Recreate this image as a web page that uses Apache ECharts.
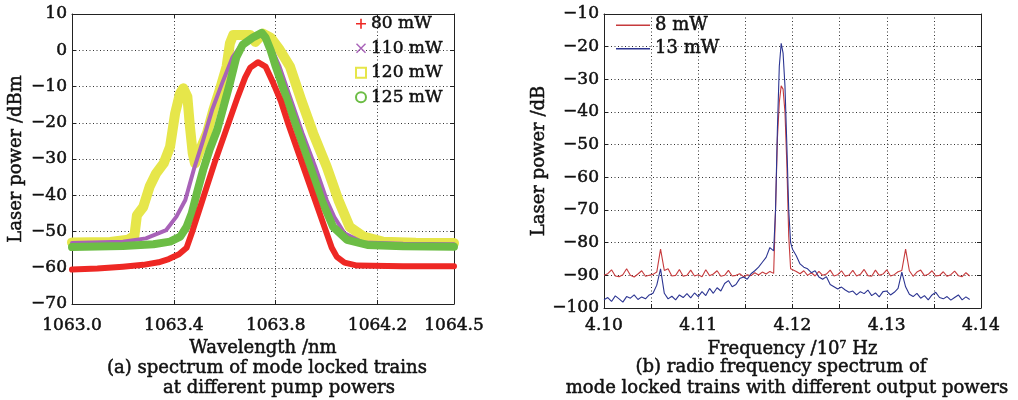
<!DOCTYPE html>
<html>
<head>
<meta charset="utf-8">
<script src="https://cdn.jsdelivr.net/npm/echarts/dist/echarts.min.js"></script>
<style>html,body{margin:0;padding:0;background:#fff;}#c{width:1018px;height:400px;}</style>
</head>
<body>
<div id="c"></div>
<script>
// ---------- (a) optical spectrum: wavelength (nm) / power (dBm) ----------
var wl80 = [1063.00,1063.10,1063.20,1063.28,1063.34,1063.38,1063.42,1063.45,1063.47,1063.50,1063.53,1063.56,1063.59,1063.62,1063.65,1063.68,1063.70,1063.73,1063.76,1063.79,1063.82,1063.85,1063.88,1063.91,1063.94,1063.97,1064.00,1064.02,1064.04,1064.07,1064.12,1064.30,1064.50];
var p80  = [-60.5,-60.2,-59.7,-59.2,-58.5,-57.6,-56.3,-54.5,-50.5,-44,-37.5,-31,-25,-19,-13,-7.5,-4.8,-3.3,-4.5,-9,-14,-20.5,-26.5,-32.5,-38.5,-44.5,-50.5,-54.5,-57,-58.6,-59.4,-59.6,-59.6];

var wl110 = [1063.00,1063.20,1063.29,1063.37,1063.41,1063.445,1063.48,1063.515,1063.55,1063.59,1063.63,1063.67,1063.74,1063.78,1063.815,1063.86,1063.905,1063.955,1064.00,1064.03,1064.07,1064.14,1064.30,1064.50];
var p110  = [-53.2,-52.8,-51.9,-49.6,-45.9,-41.3,-32.5,-24.8,-16.5,-9,-2,2,4.5,1,-4.5,-13.7,-22.9,-32.1,-41.3,-46,-50.5,-53,-53.4,-53.5];

var wl120 = [1063.00,1063.15,1063.22,1063.245,1063.255,1063.28,1063.305,1063.33,1063.36,1063.385,1063.405,1063.424,1063.437,1063.453,1063.463,1063.474,1063.483,1063.503,1063.53,1063.555,1063.58,1063.607,1063.62,1063.633,1063.70,1063.72,1063.75,1063.78,1063.815,1063.856,1063.90,1063.947,1064.00,1064.046,1064.09,1064.145,1064.22,1064.35,1064.50];
var p120  = [-53.0,-52.9,-52.3,-51.2,-45.5,-43.2,-37.6,-34,-31.2,-26.6,-17.4,-11.9,-10.5,-12.8,-21,-28.4,-31.2,-27.5,-22.9,-16.5,-11,-4.5,1.9,4.2,4.2,2.3,4.6,3.5,0.2,-4.5,-13.7,-22.9,-32.1,-41.3,-48.7,-51.4,-52.8,-53.1,-53.2];

var wl125 = [1063.00,1063.20,1063.32,1063.385,1063.425,1063.45,1063.47,1063.49,1063.515,1063.54,1063.57,1063.595,1063.62,1063.645,1063.67,1063.71,1063.745,1063.76,1063.78,1063.80,1063.845,1063.89,1063.935,1063.98,1064.025,1064.08,1064.16,1064.30,1064.50];
var p125  = [-54.3,-54.0,-53.5,-52.8,-51.4,-48.7,-45,-39.5,-33,-27.5,-22,-15.6,-9.1,-2,1.5,3.5,4.8,3.5,0,-4.5,-13.7,-22.9,-32.1,-41.3,-48.7,-52.3,-53.7,-54.1,-54.2];

var namesA = ['80 mW','110 mW','120 mW','125 mW'];
var wlTicks = {min:1063.0, max:1064.5, step:0.4};
var dbmTicks = {min:-70, max:10, step:10};

// ---------- (b) RF spectrum: frequency (1e7 Hz) / power (dB) ----------
var freq = [4.1000,4.1004,4.1008,4.1012,4.1016,4.1020,4.1024,4.1028,4.1032,4.1036,4.1040,4.1044,4.1048,4.1052,4.1056,4.1060,4.1064,4.1068,4.1072,4.1076,4.1080,4.1084,4.1088,4.1092,4.1096,4.1100,4.1104,4.1108,4.1112,4.1116,4.1120,4.1124,4.1128,4.1132,4.1136,4.1140,4.1144,4.1148,4.1152,4.1156,4.1160,4.1164,4.1168,4.1172,4.1176,4.1180,
  4.1182,4.1184,4.1186,4.1188,4.1190,4.1192,4.1194,4.1196,4.1198,4.1200,
  4.1204,4.1208,4.1212,4.1216,4.1220,4.1224,4.1228,4.1232,4.1236,4.1240,4.1244,4.1248,4.1252,4.1256,4.1260,4.1264,4.1268,4.1272,4.1276,4.1280,4.1284,4.1288,4.1292,4.1296,4.1300,4.1304,4.1308,4.1312,4.1316,4.1320,4.1324,4.1328,4.1332,4.1336,4.1340,4.1344,4.1348,4.1352,4.1356,4.1360,4.1364,4.1368,4.1372,4.1376,4.1380,4.1384,4.1388];
var rf8 = [-90.0,-89.5,-88.3,-90.2,-90.4,-89.8,-88.0,-90.0,-90.5,-89.6,-88.6,-90.3,-90.0,-89.7,-89.0,-82.0,-88.5,-88.0,-90.2,-90.0,-88.2,-90.3,-90.0,-88.4,-90.2,-89.8,-90.4,-88.3,-90.1,-89.6,-88.6,-90.3,-90.0,-88.5,-90.2,-90.0,-89.5,-90.4,-89.8,-90.1,-89.2,-89.9,-89.0,-89.6,-88.8,-89.4,
  -70,-48,-37,-32,-33,-40,-56,-78,-88,-88.5,
  -88.8,-89.5,-88.6,-90.0,-89.2,-90.2,-88.8,-90.0,-89.6,-88.4,-90.2,-89.8,-88.6,-90.3,-89.9,-88.5,-90.2,-89.7,-88.2,-90.1,-90.3,-88.4,-90.0,-89.6,-88.3,-90.2,-89.8,-88.9,-88.5,-82.0,-88.6,-90.3,-89.0,-88.4,-90.1,-89.7,-88.6,-90.2,-90.0,-88.9,-90.3,-89.8,-88.7,-90.1,-90.4,-89.2,-90.2];
var rf13 = [-97.5,-96.8,-98.0,-96.3,-97.2,-98.2,-96.5,-97.0,-96.0,-97.4,-96.6,-97.2,-96.0,-95.5,-93.0,-88.0,-95.5,-97.2,-96.4,-97.5,-96.0,-96.8,-95.6,-96.9,-95.4,-96.5,-95.0,-96.2,-94.0,-95.5,-93.8,-94.8,-92.5,-91.6,-93.5,-92.8,-91.0,-90.5,-91.2,-89.5,-88.6,-87.5,-86.0,-84.5,-81.5,-82.5,
  -70,-45,-26,-19,-22,-32,-50,-70,-80,-82,
  -84.0,-86.5,-87.5,-88.0,-89.2,-88.6,-90.5,-91.2,-90.4,-92.8,-93.5,-94.2,-93.6,-94.5,-95.2,-94.8,-96.0,-95.0,-95.6,-94.5,-96.2,-95.4,-96.6,-95.0,-94.8,-96.0,-95.2,-94.0,-89.0,-93.5,-95.8,-96.5,-95.5,-97.0,-96.2,-97.5,-96.0,-95.2,-96.8,-97.2,-96.5,-97.6,-96.8,-96.0,-97.5,-96.6,-97.4];
var namesB = ['8 mW','13 mW'];
var fTicks = {min:4.10, max:4.14, step:0.005};
var dbTicks = {min:-100, max:-10, step:10};

function pairs(xs, ys){ return xs.map(function(x,i){ return [x, ys[i]]; }); }
function minus(v){ return String(v).replace('-', '\u2212'); }

var FONT = '"DejaVu Serif", "Liberation Serif", serif';
var TXT = '#111';
var GRIDC = '#333';
var bold = {textBorderColor: TXT, textBorderWidth: 0.5};
function ts(size, extra){ return Object.assign({fontFamily: FONT, fontSize: size, color: TXT}, bold, extra || {}); }
var dotted = {show: true, lineStyle: {color: GRIDC, type: [1, 2.5], width: 1}};
var frameLine = {show: true, onZero: false, lineStyle: {color: '#222', width: 1}};
var tickIn = {show: true, inside: true, length: 4, lineStyle: {color: '#222'}};

var plusIcon = 'path://M4.2,0H5.8V4.2H10V5.8H5.8V10H4.2V5.8H0V4.2H4.2Z';
var crossIcon = 'path://M1,0L5,4L9,0L10,1L6,5L10,9L9,10L5,6L1,10L0,9L4,5L0,1Z';

var chart = echarts.init(document.getElementById('c'), null, {renderer: 'canvas'});
var option = {
  backgroundColor: '#ffffff',
  animation: false,
  grid: [
    {left: 72, top: 14, width: 382, height: 290},
    {left: 604, top: 14, width: 377, height: 294}
  ],
  xAxis: [
    {type: 'value', gridIndex: 0, min: wlTicks.min, max: wlTicks.max, interval: wlTicks.step,
     axisLine: frameLine, axisTick: tickIn, splitLine: dotted,
     axisLabel: ts(17, {margin: 13, formatter: function(v){ return v.toFixed(1); }}),
     name: 'Wavelength /nm', nameLocation: 'middle', nameGap: 34,
     nameTextStyle: ts(18)},
    {type: 'value', gridIndex: 0, position: 'top', min: wlTicks.min, max: wlTicks.max, interval: wlTicks.step,
     axisLine: frameLine, axisTick: tickIn, axisLabel: {show: false}, splitLine: {show: false}},
    {type: 'value', gridIndex: 1, min: fTicks.min, max: fTicks.max, interval: fTicks.step,
     axisLine: frameLine, axisTick: tickIn, splitLine: dotted,
     axisLabel: ts(17, {margin: 9, showMinLabel: true, showMaxLabel: true, formatter: function(v){
        return (Math.round(v * 200) % 2 === 0) ? v.toFixed(2) : ''; }}),
     name: '{a|Frequency /10}{s|7}{a| Hz}', nameLocation: 'middle', nameGap: 30,
     nameTextStyle: {rich: {a: ts(18), s: ts(11, {padding: [0, 0, 9, 0]})}}},
    {type: 'value', gridIndex: 1, position: 'top', min: fTicks.min, max: fTicks.max, interval: fTicks.step,
     axisLine: frameLine, axisTick: {show: false}, axisLabel: {show: false}, splitLine: {show: false}}
  ],
  yAxis: [
    {type: 'value', gridIndex: 0, min: dbmTicks.min, max: dbmTicks.max, interval: dbmTicks.step,
     axisLine: frameLine, axisTick: tickIn, splitLine: dotted,
     axisLabel: ts(17, {margin: 5, formatter: minus}),
     name: 'Laser power /dBm', nameLocation: 'middle', nameGap: 47,
     nameTextStyle: ts(18)},
    {type: 'value', gridIndex: 0, position: 'right', min: dbmTicks.min, max: dbmTicks.max, interval: dbmTicks.step,
     axisLine: frameLine, axisTick: tickIn, axisLabel: {show: false}, splitLine: {show: false}},
    {type: 'value', gridIndex: 1, min: dbTicks.min, max: dbTicks.max, interval: dbTicks.step,
     axisLine: frameLine, axisTick: tickIn, splitLine: dotted,
     axisLabel: ts(17, {margin: 5, formatter: minus}),
     name: 'Laser power /dB', nameLocation: 'middle', nameGap: 46,
     nameTextStyle: ts(18)},
    {type: 'value', gridIndex: 1, position: 'right', min: dbTicks.min, max: dbTicks.max, interval: dbTicks.step,
     axisLine: frameLine, axisTick: tickIn, axisLabel: {show: false}, splitLine: {show: false}}
  ],
  legend: [
    {data: [{name: namesA[0], icon: plusIcon}, {name: namesA[1], icon: crossIcon},
            {name: namesA[2], icon: 'emptyRect'}, {name: namesA[3], icon: 'emptyCircle'}],
     orient: 'vertical', left: 355, top: 15, itemWidth: 10, itemHeight: 10, itemGap: 7, padding: 0,
     textStyle: ts(17)},
    {data: [{name: namesB[0], icon: 'rect'}, {name: namesB[1], icon: 'rect'}],
     orient: 'vertical', left: 616, top: 16, itemWidth: 34, itemHeight: 1.3, itemGap: 5, padding: 0,
     textStyle: ts(18)}
  ],
  series: [
    {name: namesA[2], type: 'line', xAxisIndex: 0, yAxisIndex: 0, data: pairs(wl120, p120), symbol: 'none',
     itemStyle: {color: '#e6e64a'}, lineStyle: {color: '#e6e64a', width: 10, cap: 'round', join: 'round'}},
    {name: namesA[1], type: 'line', xAxisIndex: 0, yAxisIndex: 0, data: pairs(wl110, p110), symbol: 'none',
     itemStyle: {color: '#a862b8'}, lineStyle: {color: '#a862b8', width: 4, cap: 'round', join: 'round'}},
    {name: namesA[3], type: 'line', xAxisIndex: 0, yAxisIndex: 0, data: pairs(wl125, p125), symbol: 'none',
     itemStyle: {color: '#6cbd45'}, lineStyle: {color: '#6cbd45', width: 8, cap: 'round', join: 'round'}},
    {name: namesA[0], type: 'line', xAxisIndex: 0, yAxisIndex: 0, data: pairs(wl80, p80), symbol: 'none',
     itemStyle: {color: '#ee2824'}, lineStyle: {color: '#ee2824', width: 6, cap: 'round', join: 'round'}},
    {name: namesB[0], type: 'line', xAxisIndex: 2, yAxisIndex: 2, data: pairs(freq, rf8), symbol: 'none',
     itemStyle: {color: '#c63a3c'}, lineStyle: {color: '#c63a3c', width: 1.1}},
    {name: namesB[1], type: 'line', xAxisIndex: 2, yAxisIndex: 2, data: pairs(freq, rf13), symbol: 'none',
     itemStyle: {color: '#2c3592'}, lineStyle: {color: '#2c3592', width: 1.1}}
  ],
  graphic: [
    {type: 'text', x: 267, y: 368, style: {text: '(a) spectrum of mode locked trains', font: '18px ' + FONT, fill: TXT, stroke: TXT, lineWidth: 0.5, textAlign: 'center', textVerticalAlign: 'middle', align: 'center', verticalAlign: 'middle'}},
    {type: 'text', x: 279, y: 388, style: {text: 'at different pump powers', font: '18px ' + FONT, fill: TXT, stroke: TXT, lineWidth: 0.5, textAlign: 'center', textVerticalAlign: 'middle', align: 'center', verticalAlign: 'middle'}},
    {type: 'text', x: 781, y: 367, style: {text: '(b) radio frequency spectrum of', font: '18px ' + FONT, fill: TXT, stroke: TXT, lineWidth: 0.5, textAlign: 'center', textVerticalAlign: 'middle', align: 'center', verticalAlign: 'middle'}},
    {type: 'text', x: 787, y: 388, style: {text: 'mode locked trains with different output powers', font: '18px ' + FONT, fill: TXT, stroke: TXT, lineWidth: 0.5, textAlign: 'center', textVerticalAlign: 'middle', align: 'center', verticalAlign: 'middle'}}
  ]
};
chart.setOption(option);
</script>
</body>
</html>
